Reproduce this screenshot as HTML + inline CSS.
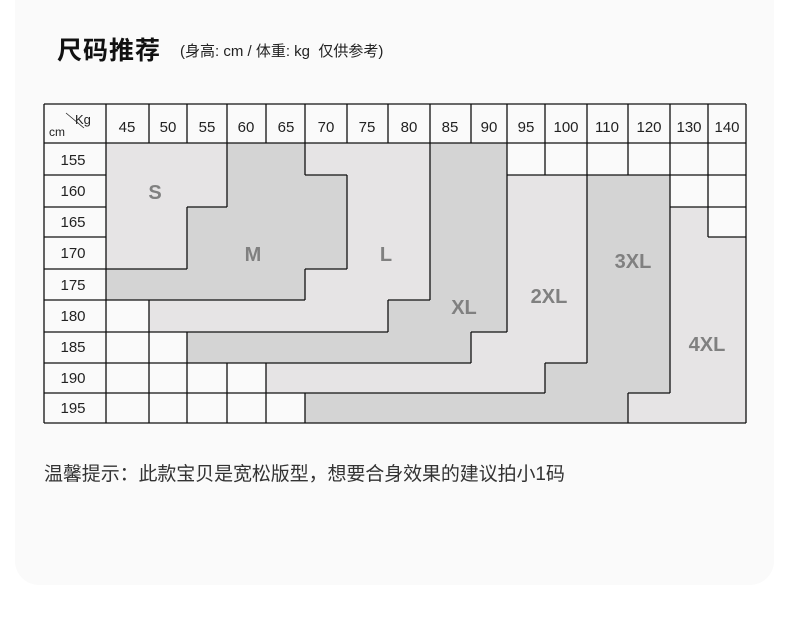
<!DOCTYPE html>
<html><head><meta charset="utf-8"><style>
html,body{margin:0;padding:0;background:#fff;}
body{width:790px;height:643px;position:relative;overflow:hidden;font-family:"Liberation Sans","Noto Sans CJK SC",sans-serif;}
.card{position:absolute;left:15px;top:-30px;width:759px;height:615px;background:#fafafa;border-radius:24px;}
.title{position:absolute;left:57px;top:31px;font-size:25px;font-weight:bold;color:#111;letter-spacing:1px;}
.sub{position:absolute;left:180px;top:40px;font-size:15px;color:#222;}
.tip{position:absolute;left:44px;top:459px;font-size:19px;color:#333;letter-spacing:-0.1px;}
svg{position:absolute;left:0;top:0;}
</style></head><body>
<div class="card"></div>
<div class="title">尺码推荐</div>
<div class="sub">(身高: cm / 体重: kg&nbsp; 仅供参考)</div>
<svg id="g" width="790" height="643" font-family="Liberation Sans, Noto Sans CJK SC, sans-serif">
<g id="cells"></g>
<g id="lines" stroke="#111" stroke-width="1.3"></g>
<g font-size="15" fill="#222" text-anchor="middle">
<text x="127" y="132">45</text><text x="168" y="132">50</text><text x="207" y="132">55</text><text x="246" y="132">60</text><text x="286" y="132">65</text><text x="326" y="132">70</text><text x="367" y="132">75</text><text x="409" y="132">80</text><text x="450" y="132">85</text><text x="489" y="132">90</text><text x="526" y="132">95</text><text x="566" y="132">100</text><text x="607" y="132">110</text><text x="649" y="132">120</text><text x="689" y="132">130</text><text x="727" y="132">140</text>
<text x="73" y="165">155</text><text x="73" y="196">160</text><text x="73" y="227">165</text><text x="73" y="258">170</text><text x="73" y="290">175</text><text x="73" y="321">180</text><text x="73" y="352">185</text><text x="73" y="383">190</text><text x="73" y="413">195</text>
</g>
<text x="49" y="136" font-size="12" fill="#222">cm</text>
<text x="75" y="124" font-size="13" fill="#222">Kg</text>
<line x1="62" y1="123" x2="84" y2="112" stroke="#222" stroke-width="0" />
<line x1="66" y1="113" x2="84" y2="128" stroke="#222" stroke-width="0.8"/>
<g font-size="20" font-weight="bold" fill="#808080" text-anchor="middle">
<text x="155" y="199">S</text><text x="253" y="261">M</text><text x="386" y="261">L</text><text x="464" y="314">XL</text><text x="549" y="303">2XL</text><text x="633" y="268">3XL</text><text x="707" y="351">4XL</text>
</g>
</svg>
<div class="tip">温馨提示：此款宝贝是宽松版型，想要合身效果的建议拍小1码</div>
<script>
var X=[106,149,187,227,266,305,347,388,430,471,507,545,587,628,670,708,746];
var Y=[143,175,207,237,269,300,332,363,393,423];
var m=["SSSMMLLLXXwwwwww","SSSMMMLLXX2233ww","SSMMMMLLXX22334w","SSMMMMLLXX223344","MMMMMLLLXX223344","wLLLLLLXXX223344","wwXXXXXXX2223344","wwww222222233344","wwwww33333333444"];
var col={S:"#e6e4e5",L:"#e6e4e5","2":"#e6e4e5","4":"#e6e4e5",M:"#d4d4d4",X:"#d4d4d4","3":"#d4d4d4",w:"#fafafa"};
var ns="http://www.w3.org/2000/svg",C=document.getElementById("cells"),Lg=document.getElementById("lines");
function id(r,c){if(r<0||r>8||c<0||c>15)return "out";var v=m[r][c];return v=="w"?"w"+r+"_"+c:v;}
function ln(a,b,c,d){var e=document.createElementNS(ns,"line");e.setAttribute("x1",a);e.setAttribute("y1",b);e.setAttribute("x2",c);e.setAttribute("y2",d);Lg.appendChild(e);}
for(var r=0;r<9;r++)for(var c=0;c<16;c++){var e=document.createElementNS(ns,"rect");e.setAttribute("x",X[c]);e.setAttribute("y",Y[r]);e.setAttribute("width",X[c+1]-X[c]);e.setAttribute("height",Y[r+1]-Y[r]);e.setAttribute("fill",col[m[r][c]]);C.appendChild(e);
if(id(r,c)!=id(r,c+1)&&c<15)ln(X[c+1],Y[r],X[c+1],Y[r+1]);
if(id(r,c)!=id(r+1,c)&&r<8)ln(X[c],Y[r+1],X[c+1],Y[r+1]);}
ln(44,104,746,104);ln(44,423,746,423);ln(44,104,44,423);ln(746,104,746,423);ln(106,104,106,423);ln(44,143,746,143);
for(var c=1;c<16;c++)ln(X[c],104,X[c],143);
for(var r=1;r<9;r++)ln(44,Y[r],106,Y[r]);
</script>
</body></html>
